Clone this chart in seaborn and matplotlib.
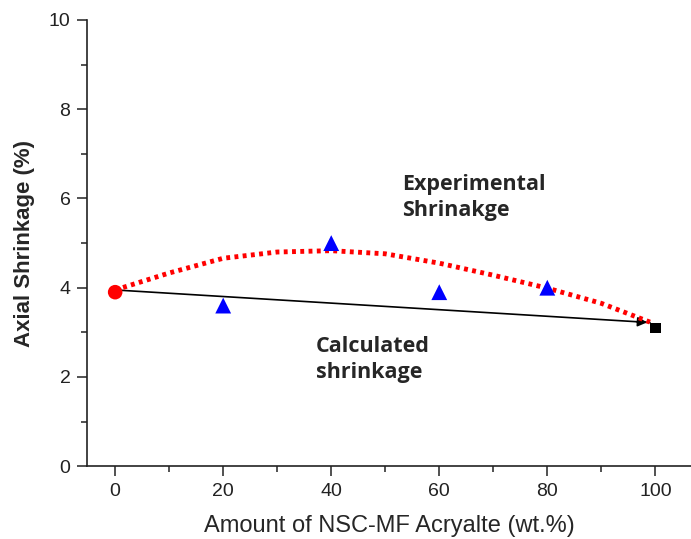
import numpy as np
import pandas as pd
import seaborn as sns
import matplotlib.pyplot as plt
from matplotlib.ticker import MultipleLocator

# data
nsc_start = [0]
shrink_start = [3.9]
nsc_mid = [20, 40, 60, 80]
shrink_mid = [3.6, 5.0, 3.9, 4.0]
nsc_end = [100]
shrink_end = [3.1]

calc_x = [0, 99]
calc_y = [3.95, 3.22]

exp_x = [0, 10, 20, 30, 40, 50, 60, 70, 80, 90, 99]
exp_y = [3.95, 4.33, 4.66, 4.80, 4.83, 4.76, 4.55, 4.28, 3.99, 3.65, 3.23]

sns.set_style("ticks")
plt.rcParams['font.family'] = ['Liberation Sans', 'DejaVu Sans']

fig = plt.figure(figsize=(6.91, 5.39), dpi=100)
ax = fig.add_axes([0.126, 0.135, 0.874, 0.828])

sns.lineplot(x=calc_x, y=calc_y, ax=ax, color='black', lw=1.2, zorder=2)
slope = (calc_y[1] - calc_y[0]) / (calc_x[1] - calc_x[0])
ax.annotate('', xy=(calc_x[1], calc_y[1]), xytext=(calc_x[1] - 3, calc_y[1] - 3 * slope),
            arrowprops=dict(arrowstyle='-|>', color='black', lw=1.2, mutation_scale=14))
sns.lineplot(x=exp_x, y=exp_y, ax=ax, color='red', lw=3.5, linestyle=(0, (0.8, 0.9)), zorder=3)

sns.scatterplot(x=nsc_start, y=shrink_start, ax=ax, color='red', marker='o', s=110, edgecolor='none', zorder=4)
sns.scatterplot(x=nsc_mid, y=shrink_mid, ax=ax, color='blue', marker='^', s=130, edgecolor='none', zorder=4)
sns.scatterplot(x=nsc_end, y=shrink_end, ax=ax, color='black', marker='s', s=60, edgecolor='none', zorder=4)

ax.text(53.1, 6.03, 'Experimental\nShrinakge', fontsize=15.5, fontweight='bold',
        family=['Open Sans', 'DejaVu Sans'], va='center', ha='left', linespacing=1.3)
ax.text(37.2, 2.4, 'Calculated\nshrinkage', fontsize=15.5, fontweight='bold',
        family=['Open Sans', 'DejaVu Sans'], va='center', ha='left', linespacing=1.3)

ax.set_xlim(-5.2, 106.6)
ax.set_ylim(0, 10)
ax.xaxis.set_major_locator(MultipleLocator(20))
ax.xaxis.set_minor_locator(MultipleLocator(10))
ax.yaxis.set_major_locator(MultipleLocator(2))
ax.yaxis.set_minor_locator(MultipleLocator(1))
ax.tick_params(which='major', length=7, width=1.2, labelsize=14, pad=5, color='#333333', labelcolor='#222222')
ax.tick_params(which='minor', length=4.5, width=1.2, color='#333333')
ax.spines['top'].set_visible(False)
ax.spines['right'].set_visible(False)
for s in ['left', 'bottom']:
    ax.spines[s].set_linewidth(1.2)
    ax.spines[s].set_color('#222222')
ax.set_xlabel('Amount of NSC-MF Acryalte (wt.%)', fontsize=17, labelpad=11)
ax.set_ylabel('Axial Shrinkage (%)', fontsize=16, fontweight='bold', labelpad=10)

plt.savefig('out.png', dpi=100)
